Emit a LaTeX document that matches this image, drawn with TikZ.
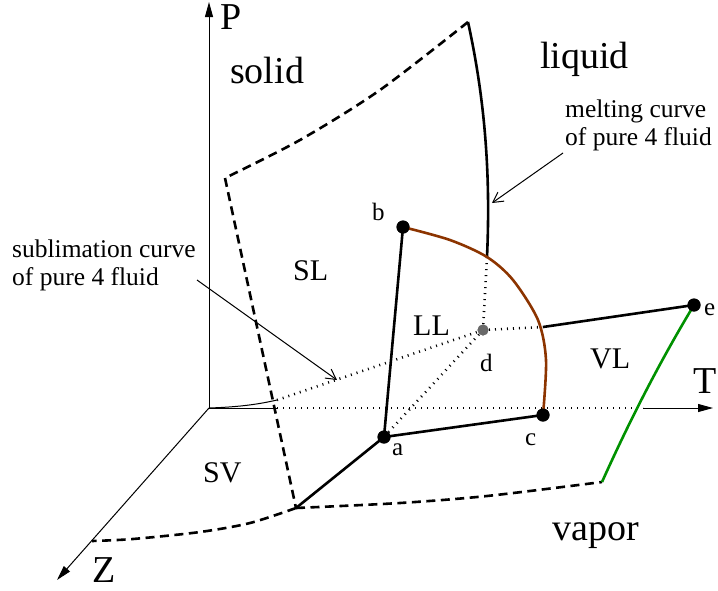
\documentclass[tikz,border=0pt]{standalone}
\usepackage{fontspec}
\setmainfont{Liberation Serif}
\usetikzlibrary{arrows.meta}
\definecolor{brn}{RGB}{140,52,0}
\definecolor{grn}{RGB}{0,145,0}
\definecolor{dgray}{RGB}{105,105,105}
\begin{document}
\begin{tikzpicture}[x=1pt,y=-1pt,
  axis/.style={line width=1pt,-{Triangle[length=15pt,width=8pt]}},
  thinline/.style={line width=1pt},
  thickline/.style={line width=2.6pt},
  dashline/.style={line width=2.6pt,dash pattern=on 9pt off 5.5pt},
  dotline/.style={line width=2.6pt,dash pattern=on 1pt off 5pt},
  notearrow/.style={line width=1pt,-{Straight Barb[length=10pt,width=11pt,line width=1pt]}},
  dot/.style={circle,fill=black,inner sep=0pt,minimum size=13pt},
  graydot/.style={circle,fill=dgray,inner sep=0pt,minimum size=11pt},
  biglbl/.style={inner sep=0pt,anchor=base west,text height=26pt,text depth=0pt,font=\fontsize{38}{40}\selectfont},
  reglbl/.style={inner sep=0pt,anchor=base west,font=\fontsize{30}{32}\selectfont},
  notelbl/.style={inner sep=0pt,anchor=base west,font=\fontsize{25.5}{28}\selectfont},
  ptlbl/.style={inner sep=0pt,anchor=base west,font=\fontsize{25}{27}\selectfont}]
\useasboundingbox (0,0) rectangle (718,590);
% key coordinates
\coordinate (O) at (209,408);
\coordinate (Ptop) at (209,2);
\coordinate (Ttip) at (713,408);
\coordinate (Ztip) at (57,580);
\coordinate (Tsol) at (277,408);
\coordinate (Tdot) at (643,408);
\coordinate (tp) at (277,400);
\coordinate (m0) at (468,22);
\coordinate (m1) at (487,257);
\coordinate (s0) at (225,178);
\coordinate (s1) at (296,508);
\coordinate (z0) at (92,541);
\coordinate (v0) at (602,482);
\coordinate (br) at (543,327);
\coordinate (subA) at (197,280);
\coordinate (subB) at (337,380);
\coordinate (melA) at (563,153);
\coordinate (melB) at (492,203);
% points
\node[graydot] (d) at (483,330) {};
\node[dot] (a) at (384,437) {};
\node[dot] (b) at (403,227) {};
\node[dot] (c) at (543,415) {};
\node[dot] (e) at (694,305) {};
% axes
\draw[axis] (O) -- (Ptop);
\draw[axis] (O) -- (Ztip);
\draw[thinline] (O) -- (Tsol);
\draw[dotline] (Tsol) -- (Tdot);
\draw[axis] (Tdot) -- (Ttip);
% sublimation curve at Z=0
\draw[thinline] (O) .. controls (240,407) and (260,404) .. (tp);
% dotted hidden lines
\draw[dotline] (tp) -- (d.center);
\draw[dotline] (d.center) -- (a.center);
\draw[dotline] (d.center) -- (m1);
\draw[dotline] (d.center) -- (br);
% dashed boundaries
\draw[dashline] plot[smooth] coordinates {(m0) (380,90) (300,140) (s0)};
\draw[dashline] (s0) -- (s1);
\draw[dashline] plot[smooth] coordinates {(s1) (400,503) (487,496) (v0)};
\draw[dashline] plot[smooth] coordinates {(s1) (250,523) (200,532) (133,539) (z0)};
% melting curve
\draw[thickline] (m0) .. controls (484,95) and (491,170) .. (m1);
% solid lines
\draw[thickline] (a.center) -- (b.center);
\draw[thickline] (a.center) -- (c.center);
\draw[thickline] (a.center) -- (s1);
\draw[thickline] (br) -- (e.center);
% brown curve b-c
\draw[brn,line width=2.6pt] plot[smooth] coordinates {(b.center) (450,240) (m1) (513,280) (538,320) (546,360) (c.center)};
% green curve e-vapor
\draw[grn,line width=2.6pt] (e.center) .. controls (659,363) and (629,422) .. (v0);
% redraw dots on top
\node[graydot] at (d) {};
\node[dot] at (a) {};
\node[dot] at (b) {};
\node[dot] at (c) {};
\node[dot] at (e) {};
% annotation arrows
\draw[notearrow] (subA) -- (subB);
\draw[notearrow] (melA) -- (melB);
% labels
\node[biglbl] (lP) at (220,29) {P};
\node[biglbl] (lT) at (693,393) {T};
\node[biglbl] (lZ) at (92,582) {Z};
\node[biglbl] (lsolid) at (230,83) {solid};
\node[biglbl] (lliquid) at (540,68) {liquid};
\node[biglbl] (lvapor) at (552,540) {vapor};
\node[reglbl] (lSL) at (293,280) {SL};
\node[reglbl] (lLL) at (413,335) {LL};
\node[reglbl] (lVL) at (590,368) {VL};
\node[reglbl] (lSV) at (203,482) {SV};
\node[ptlbl] (la) at (392,455) {a};
\node[ptlbl] (lb) at (372,220) {b};
\node[ptlbl] (lc) at (525,445) {c};
\node[ptlbl] (ld) at (480,371) {d};
\node[ptlbl] (le) at (704,315) {e};
\node[notelbl] (mel1) at (565,117) {melting curve};
\node[notelbl] (mel2) at (565,145) {of pure 4 fluid};
\node[notelbl] (sub1) at (12,257) {sublimation curve};
\node[notelbl] (sub2) at (12,285) {of pure 4 fluid};
\end{tikzpicture}
\end{document}
